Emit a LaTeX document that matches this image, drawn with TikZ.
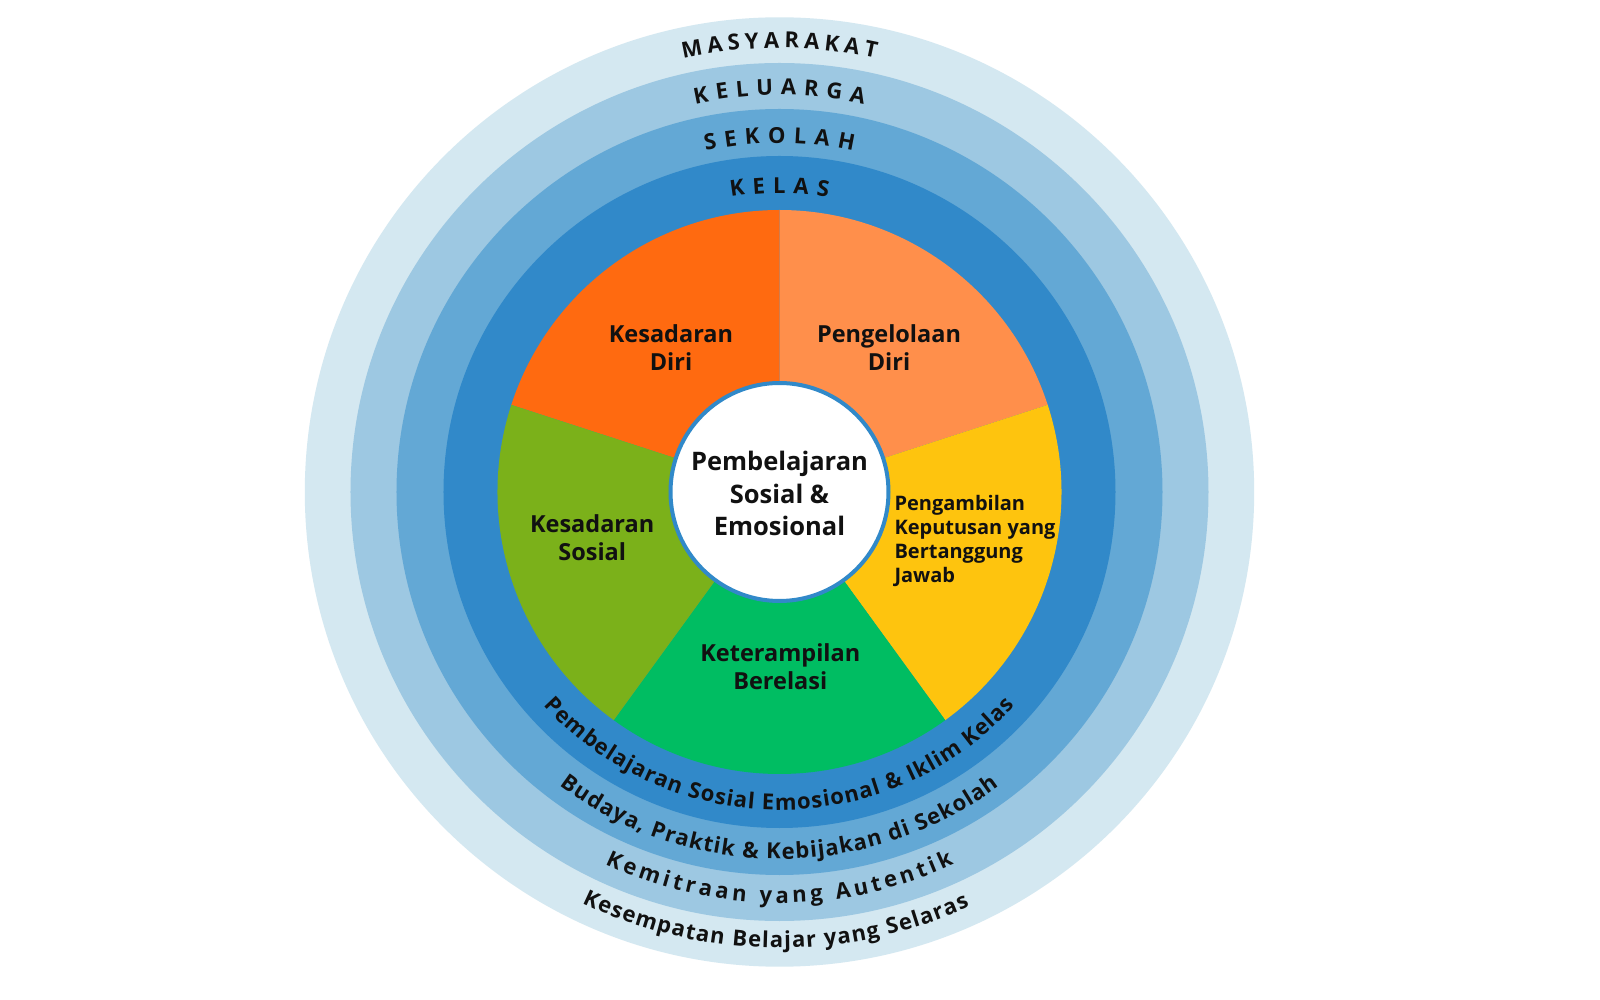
\documentclass[tikz,border=0pt]{standalone}
\usepackage{fontspec}
\setmainfont{Open Sans}
\definecolor{ringA}{HTML}{D4E8F1}
\definecolor{ringB}{HTML}{9DC8E2}
\definecolor{ringC}{HTML}{63A8D5}
\definecolor{ringD}{HTML}{3189C9}
\definecolor{segKD}{HTML}{FF6A10}
\definecolor{segPD}{HTML}{FF8F4B}
\definecolor{segPK}{HTML}{FEC40E}
\definecolor{segKB}{HTML}{00BD62}
\definecolor{segKS}{HTML}{7BB11A}
\definecolor{inkc}{HTML}{111111}
\newdimen\chw
% \preparc{name}{radius}{tracking}{size}{centre angle}{direction: -1 top (clockwise), 1 bottom}{list}
\newcommand\preparc[7]{%
  \gdef\acctot{0}%
  \foreach \c in {#7}{%
    \settowidth\chw{\normalfont\bfseries\fontsize{#4}{#4}\selectfont\c}%
    \pgfmathsetmacro\tmpw{\acctot+\the\chw+#3}%
    \xdef\acctot{\tmpw}}%
  \pgfmathsetmacro\startang{#5-(#6)*((\acctot-#3)/2)/#2*180/pi}%
  \gdef\accpos{0}%
  \foreach \c [count=\i] in {#7}{%
    \settowidth\chw{\normalfont\bfseries\fontsize{#4}{#4}\selectfont\c}%
    \pgfmathsetmacro\ang{\startang+(#6)*(\accpos+\the\chw/2)/#2*180/pi}%
    \expandafter\xdef\csname ang-#1-\i\endcsname{\ang}%
    \pgfmathsetmacro\tmpw{\accpos+\the\chw+#3}%
    \xdef\accpos{\tmpw}}%
}
% \placearc{name}{radius}{size}{rotation offset}{list}
\newcommand\placearc[5]{%
  \foreach \c [count=\i] in {#5}{%
    \edef\ang{\csname ang-#1-\i\endcsname}%
    \node[letter, font=\bfseries\fontsize{#3}{#3}\selectfont, rotate=\ang#4] (#1-\i) at (\ang:#2pt) {\c};}%
}
\begin{document}
\preparc{ma}{444}{5}{22}{90}{-1}{M,A,S,Y,A,R,A,K,A,T}%
\preparc{ke}{397}{7.6}{22}{90}{-1}{K,E,L,U,A,R,G,A}%
\preparc{se}{349}{8}{22}{90}{-1}{S,E,K,O,L,A,H}%
\preparc{kl}{299}{7.7}{22}{90}{-1}{K,E,L,A,S}%
\preparc{pb}{318}{1}{22}{270}{1}{P,e,m,b,e,l,a,j,a,r,a,n,~,S,o,s,i,a,l,~,E,m,o,s,i,o,n,a,l,~,\&,~,I,k,l,i,m,~,K,e,l,a,s}%
\preparc{bu}{367}{1.1}{22}{270}{1}{B,u,d,a,y,a,{,},~,P,r,a,k,t,i,k,~,\&,~,K,e,b,i,j,a,k,a,n,~,d,i,~,S,e,k,o,l,a,h}%
\preparc{km}{411}{3.8}{22}{270}{1}{K,e,m,i,t,r,a,a,n,~,y,a,n,g,~,A,u,t,e,n,t,i,k}%
\preparc{ks}{456}{1.2}{22}{269.5}{1}{K,e,s,e,m,p,a,t,a,n,~,B,e,l,a,j,a,r,~,y,a,n,g,~,S,e,l,a,r,a,s}%
\begin{tikzpicture}[
  letter/.style={anchor=base, inner sep=0pt, outer sep=0pt, text=inkc},
  seglabel/.style={inner sep=0pt, align=center, text=inkc, font=\bfseries\fontsize{23.5}{28}\selectfont},
]
\useasboundingbox[fill=white] (-779.5pt,-508pt) rectangle (820.5pt,492pt);
% rings
\fill[ringA] (0,0) circle[radius=474.7pt];
\fill[ringB] (0,0) circle[radius=429pt];
\fill[ringC] (0,0) circle[radius=383pt];
\fill[ringD] (0,0) circle[radius=336pt];
% pie
\fill[segKD] (0,0) -- (90:282pt) arc[start angle=90, end angle=162, radius=282pt] -- cycle;
\fill[segPD] (0,0) -- (18:282pt) arc[start angle=18, end angle=90, radius=282pt] -- cycle;
\fill[segPK] (0,0) -- (-54:282pt) arc[start angle=-54, end angle=18, radius=282pt] -- cycle;
\fill[segKB] (0,0) -- (-126:282pt) arc[start angle=-126, end angle=-54, radius=282pt] -- cycle;
\fill[segKS] (0,0) -- (162:282pt) arc[start angle=162, end angle=234, radius=282pt] -- cycle;
% centre
\node[circle, fill=white, draw=ringD, line width=4pt, minimum size=218pt, inner sep=0pt] (core) at (0,0) {};
\node[inner sep=0pt, align=center, text=inkc, font=\bfseries\fontsize{25.5}{32.5}\selectfont] (coretext) at (0,-1.5pt) {Pembelajaran\\Sosial \&\\Emosional};
% segment labels
\node[seglabel] (kd) at (-108.5pt,144pt) {Kesadaran\\Diri};
\node[seglabel] (pd) at (109.5pt,144pt) {Pengelolaan\\Diri};
\node[seglabel] (ks) at (-187.3pt,-45.5pt) {Kesadaran\\Sosial};
\node[seglabel] (kb) at (0.8pt,-174.2pt) {Keterampilan\\Berelasi};
\node[inner sep=0pt, align=left, anchor=west, text=inkc, font=\bfseries\fontsize{20}{24}\selectfont] (pk) at (114.8pt,-49pt) {Pengambilan\\Keputusan yang\\Bertanggung\\Jawab};
% ring labels
\placearc{ma}{444}{22}{-90}{M,A,S,Y,A,R,A,K,A,T}
\placearc{ke}{397}{22}{-90}{K,E,L,U,A,R,G,A}
\placearc{se}{349}{22}{-90}{S,E,K,O,L,A,H}
\placearc{kl}{299}{22}{-90}{K,E,L,A,S}
\placearc{pb}{318}{22}{+90}{P,e,m,b,e,l,a,j,a,r,a,n,~,S,o,s,i,a,l,~,E,m,o,s,i,o,n,a,l,~,\&,~,I,k,l,i,m,~,K,e,l,a,s}
\placearc{bu}{367}{22}{+90}{B,u,d,a,y,a,{,},~,P,r,a,k,t,i,k,~,\&,~,K,e,b,i,j,a,k,a,n,~,d,i,~,S,e,k,o,l,a,h}
\placearc{km}{411}{22}{+90}{K,e,m,i,t,r,a,a,n,~,y,a,n,g,~,A,u,t,e,n,t,i,k}
\placearc{ks}{456}{22}{+90}{K,e,s,e,m,p,a,t,a,n,~,B,e,l,a,j,a,r,~,y,a,n,g,~,S,e,l,a,r,a,s}
\end{tikzpicture}
\end{document}
